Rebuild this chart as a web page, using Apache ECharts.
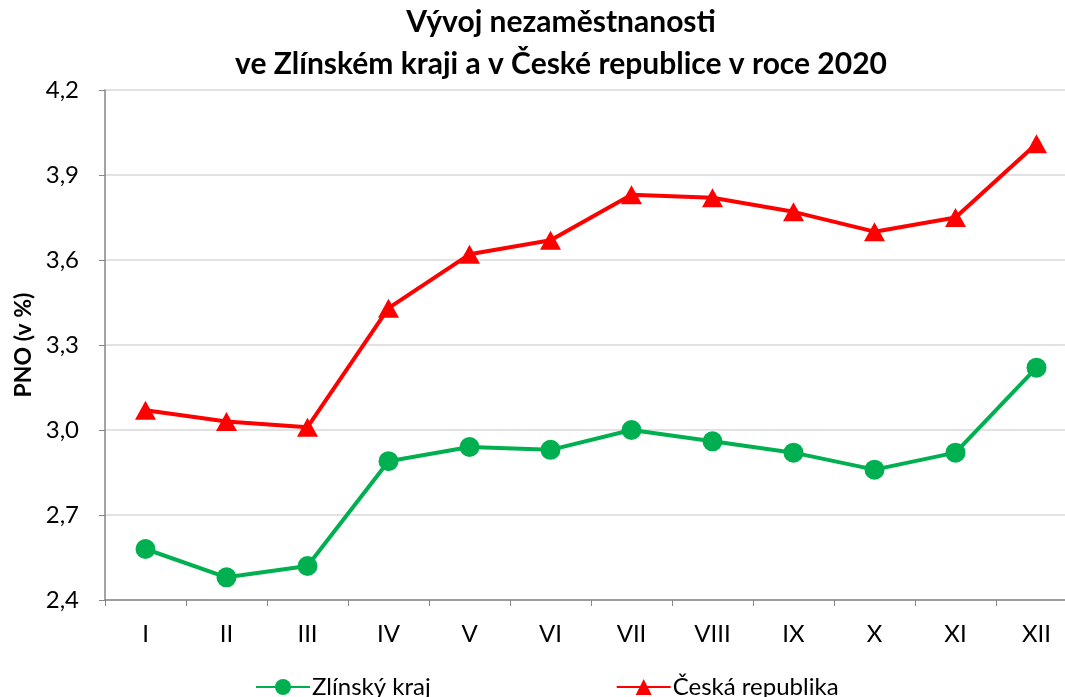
<!doctype html>
<html>
<head>
<meta charset="utf-8">
<title>Vývoj nezaměstnanosti</title>
<script src="https://cdn.jsdelivr.net/npm/echarts@6/dist/echarts.min.js"></script>
<style>
html,body{margin:0;padding:0;background:#fff;}
#main{width:1065px;height:697px;}
</style>
</head>
<body>
<div id="main"></div>
<script>
// data
var months = ['I','II','III','IV','V','VI','VII','VIII','IX','X','XI','XII'];
var zlinsky = [2.58,2.48,2.52,2.89,2.94,2.93,3.00,2.96,2.92,2.86,2.92,3.22];
var cr = [3.07,3.03,3.01,3.43,3.62,3.67,3.83,3.82,3.77,3.70,3.75,4.01];

var font = 'Lato';
var chart = echarts.init(document.getElementById('main'));

chart.setOption({
  animation:false,
  title:{
    text:'Vývoj nezaměstnanosti\nve Zlínském kraji a v České republice v roce 2020',
    left:556, textAlign:'center', top:-4,
    textStyle:{fontFamily:font,fontWeight:'bold',fontSize:30,lineHeight:42,color:'#000'}
  },
  legend:{
    bottom:-7, left:250, itemGap:185, itemWidth:54, itemHeight:20,
    textStyle:{fontFamily:font,fontSize:24,color:'#000',padding:[0,0,0,-3]},
    data:['Zlínský kraj','Česká republika']
  },
  grid:{left:105,right:-12,top:90,bottom:97,outerBoundsMode:'none',containLabel:false},
  xAxis:{
    type:'category', data:months, boundaryGap:true,
    axisLine:{lineStyle:{color:'#868686',width:1.5}},
    axisTick:{show:true,length:6,alignWithLabel:false,lineStyle:{color:'#868686'}},
    axisLabel:{fontFamily:font,fontSize:24,color:'#000',margin:22}
  },
  yAxis:{
    type:'value', min:2.4, max:4.2, interval:0.3,
    name:'PNO (v %)', nameLocation:'middle', nameGap:70,
    nameTextStyle:{fontFamily:font,fontWeight:'bold',fontSize:23,color:'#000'},
    axisLine:{show:true,lineStyle:{color:'#868686',width:1.5}},
    axisTick:{show:true,length:6,lineStyle:{color:'#868686'}},
    axisLabel:{fontFamily:font,fontSize:24,color:'#000',margin:26,
      formatter:function(v){return v.toFixed(1).replace('.',',');}},
    splitLine:{lineStyle:{color:'#d9d9d9',width:1.5}}
  },
  series:[
    {name:'Zlínský kraj',type:'line',data:zlinsky,
     symbol:'circle',symbolSize:20,
     lineStyle:{color:'#00b050',width:4},
     itemStyle:{color:'#00b050'}},
    {name:'Česká republika',type:'line',data:cr,
     symbol:'triangle',symbolSize:[21,19],
     lineStyle:{color:'#ff0000',width:4},
     itemStyle:{color:'#ff0000'}}
  ]
});
</script>
</body>
</html>
